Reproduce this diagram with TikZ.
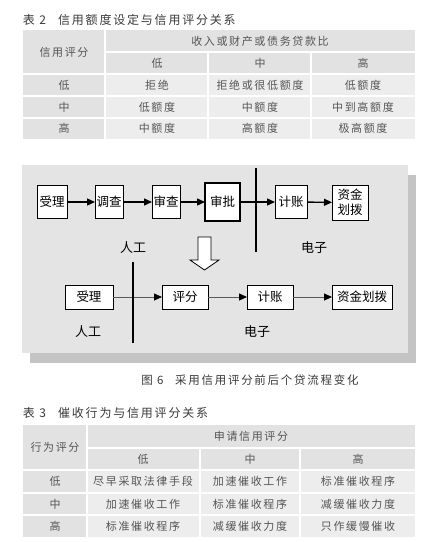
\documentclass[tikz,border=0pt]{standalone}
\usepackage{fontspec}
\setmainfont{Noto Sans CJK SC}
\newfontfamily\spaced[LetterSpace=15]{Noto Sans CJK SC}
\usetikzlibrary{arrows.meta}
\definecolor{headbg}{HTML}{E2E2E2}
\definecolor{cellbg}{HTML}{EDEDED}
\definecolor{tabtext}{HTML}{555555}
\definecolor{titletext}{HTML}{3A3A3A}
\definecolor{panelc}{HTML}{E4E4E4}
\definecolor{shadowc}{HTML}{C4C4C4}
\tikzset{
  tabtxt/.style={font=\spaced\fontsize{11}{12}\selectfont, text=tabtext},
  titletxt/.style={font=\spaced\fontsize{12}{13}\selectfont, text=titletext, anchor=west},
  sep/.style={white, line width=1.2pt},
  flowbox/.style={draw, fill=white, line width=0.8pt, font=\fontsize{12.5}{14}\selectfont, align=center},
  toparrow/.style={line width=1.4pt, -{Triangle[length=8pt,width=7pt]}},
  botarrow/.style={draw=black!65, line width=0.8pt, -{Triangle[length=8pt,width=7pt,color=black]}},
  divider/.style={line width=1.1pt},
  zone/.style={font=\fontsize{13}{14}\selectfont}
}
\begin{document}
\begin{tikzpicture}[x=1pt,y=-1pt, every node/.style={inner sep=0pt, outer sep=0pt}]
\useasboundingbox (0,0) rectangle (424,542);
\fill[white] (0,0) rectangle (424,542);

% ---------------- Table 2 ----------------
\node[titletxt] (t2title) at (23,20) {表 2\hspace{1em}信用额度设定与信用评分关系};
\fill[cellbg] (23,30) rectangle (415,139);
\fill[headbg] (23,30) rectangle (415,74);
\fill[headbg] (23,30) rectangle (105,139);
\draw[sep] (105,52) -- (415,52);
\draw[sep] (23,74) -- (415,74);
\draw[sep] (23,96) -- (415,96);
\draw[sep] (23,118) -- (415,118);
\draw[sep] (105,30) -- (105,139);
\draw[sep] (208,52) -- (208,139);
\draw[sep] (311,52) -- (311,139);
\node[tabtxt] (t2h0) at (64,52) {信用评分};
\node[tabtxt] (t2h1) at (260,41) {收入或财产或债务贷款比};
\node[tabtxt] (t2c1) at (157,63) {低};
\node[tabtxt] (t2c2) at (260,63) {中};
\node[tabtxt] (t2c3) at (363,63) {高};
\node[tabtxt] (t2r1) at (64,85) {低};
\node[tabtxt] (t2r2) at (64,107) {中};
\node[tabtxt] (t2r3) at (64,128.5) {高};
\node[tabtxt] (t2a1) at (157,85) {拒绝};
\node[tabtxt] (t2a2) at (260,85) {拒绝或很低额度};
\node[tabtxt] (t2a3) at (363,85) {低额度};
\node[tabtxt] (t2b1) at (157,107) {低额度};
\node[tabtxt] (t2b2) at (260,107) {中额度};
\node[tabtxt] (t2b3) at (363,107) {中到高额度};
\node[tabtxt] (t2d1) at (157,128.5) {中额度};
\node[tabtxt] (t2d2) at (260,128.5) {高额度};
\node[tabtxt] (t2d3) at (363,128.5) {极高额度};

% ---------------- Figure 6 ----------------
\fill[shadowc] (30,175) rectangle (416,363);
\fill[panelc] (22,165) rectangle (408,353);

\node[flowbox, minimum width=30pt, minimum height=33pt] (a1) at (52,202) {受理};
\node[flowbox, minimum width=28pt, minimum height=33pt] (a2) at (109,202) {调查};
\node[flowbox, minimum width=28pt, minimum height=33pt] (a3) at (166,202) {审查};
\node[flowbox, line width=1.4pt, minimum width=35pt, minimum height=38pt] (a4) at (222.5,202) {审批};
\node[flowbox, minimum width=32pt, minimum height=33pt] (a5) at (291,202) {计账};
\node[flowbox, minimum width=36pt, minimum height=35pt, font=\fontsize{12.5}{15}\selectfont] (a6) at (350,202.5) {资金\\划拨};
\draw[toparrow] (a1) -- (a2);
\draw[toparrow] (a2) -- (a3);
\draw[toparrow] (a3) -- (a4);
\draw[toparrow] (a4) -- (a5);
\draw[toparrow] (a5) -- (a6);
\coordinate (v1t) at (256,168);
\coordinate (v1b) at (256,252);
\draw[divider] (v1t) -- (v1b);
\node[zone] (z1) at (133,248) {人工};
\node[zone] (z2) at (314,248) {电子};

% block arrow
\draw[fill=white, line width=0.8pt] (198,237) -- (211,237) -- (211,260) -- (219,260) -- (204.5,270) -- (190,260) -- (198,260) -- cycle;

\node[flowbox, minimum width=48pt, minimum height=24pt] (b1) at (89,297) {受理};
\node[flowbox, minimum width=46pt, minimum height=24pt] (b2) at (185,297) {评分};
\node[flowbox, minimum width=46pt, minimum height=24pt] (b3) at (270,297) {计账};
\node[flowbox, minimum width=60pt, minimum height=24pt] (b4) at (362,297) {资金划拨};
\draw[botarrow] (b1) -- (b2);
\draw[botarrow] (b2) -- (b3);
\draw[botarrow] (b3) -- (b4);
\coordinate (v2t) at (133,262);
\coordinate (v2b) at (133,343);
\draw[divider] (v2t) -- (v2b);
\node[zone] (z3) at (88,332) {人工};
\node[zone] (z4) at (257,332) {电子};

\node[font=\spaced\fontsize{11.5}{13}\selectfont, text=titletext] (cap) at (250,380) {图 6\hspace{1em}采用信用评分前后个贷流程变化};

% ---------------- Table 3 ----------------
\node[titletxt] (t3title) at (23,413) {表 3\hspace{1em}催收行为与信用评分关系};
\fill[cellbg] (23,425) rectangle (415,537);
\fill[headbg] (23,425) rectangle (415,470);
\fill[headbg] (23,425) rectangle (87,537);
\draw[sep] (87,448) -- (415,448);
\draw[sep] (23,470) -- (415,470);
\draw[sep] (23,493) -- (415,493);
\draw[sep] (23,515) -- (415,515);
\draw[sep] (87,425) -- (87,537);
\draw[sep] (200,448) -- (200,537);
\draw[sep] (300,448) -- (300,537);
\node[tabtxt] (t3h0) at (55,447) {行为评分};
\node[tabtxt] (t3h1) at (251,436) {申请信用评分};
\node[tabtxt] (t3c1) at (143,459) {低};
\node[tabtxt] (t3c2) at (250,459) {中};
\node[tabtxt] (t3c3) at (358,459) {高};
\node[tabtxt] (t3r1) at (55,481) {低};
\node[tabtxt] (t3r2) at (55,504) {中};
\node[tabtxt] (t3r3) at (55,526) {高};
\node[tabtxt] (t3a1) at (143,481) {尽早采取法律手段};
\node[tabtxt] (t3a2) at (250,481) {加速催收工作};
\node[tabtxt] (t3a3) at (358,481) {标准催收程序};
\node[tabtxt] (t3b1) at (143,504) {加速催收工作};
\node[tabtxt] (t3b2) at (250,504) {标准催收程序};
\node[tabtxt] (t3b3) at (358,504) {减缓催收力度};
\node[tabtxt] (t3d1) at (143,526) {标准催收程序};
\node[tabtxt] (t3d2) at (250,526) {减缓催收力度};
\node[tabtxt] (t3d3) at (358,526) {只作缓慢催收};
\end{tikzpicture}
\end{document}
